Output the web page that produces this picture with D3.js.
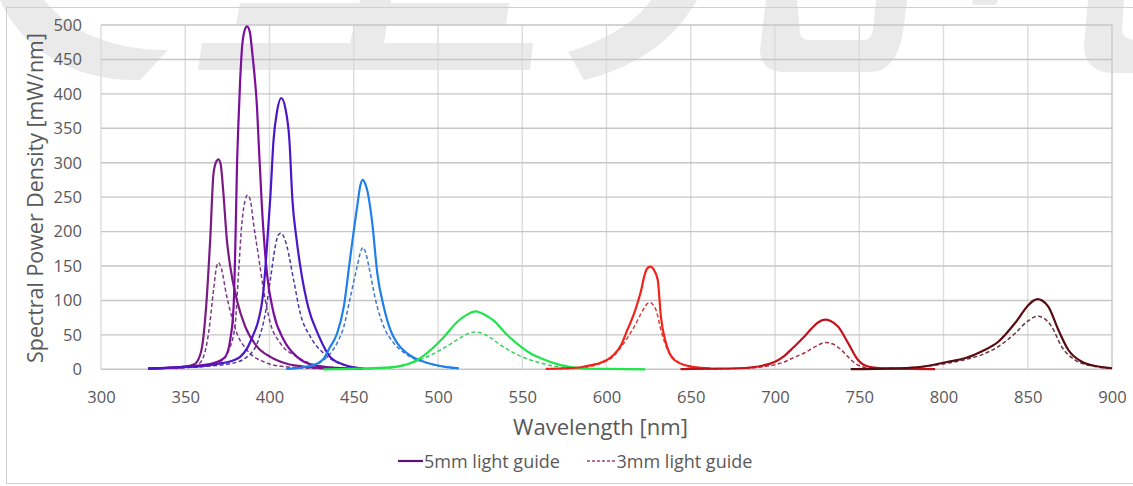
<!DOCTYPE html>
<html>
<head>
<meta charset="utf-8">
<script src="https://cdn.jsdelivr.net/npm/d3@7"></script>
<style>
	body { margin: 0; background: #fff; }
	svg { display: block; font-family: "Open Sans", sans-serif; }
</style>
</head>
<body>
<div id="chart"></div>
<script>
/* global d3 */

//	BEGIN data

var xTicks = [300, 350, 400, 450, 500, 550, 600, 650, 700, 750, 800, 850, 900];
var yTicks = [0, 50, 100, 150, 200, 250, 300, 350, 400, 450, 500];
var legendLabels = ["5mm light guide", "3mm light guide"];

// one LED per entry, [wavelength nm, mW/nm]
var led370Solid = [[328,1],[340,2],[350,4],[355,7],[357,11],[360,33],[362.4,91],[364.8,188],[366.8,285],[368.5,302],[369.7,305],[371,298],[372.5,260],[374.7,188],[376.7,149],[380.7,100],[385.6,62],[392.6,33],[400.5,18],[410.4,8],[420,4],[435,1.5],[450,0.5]];
var led370Dashed = [[328,1],[345,2],[352,3],[357,6],[360.8,18],[363.8,52],[366.8,115],[368.5,148],[369.7,155],[371,150],[374.7,105],[380.7,52],[386.6,28],[396.5,11],[405,5],[420,2],[440,0.5]];
var led386Solid = [[328,1],[345,3],[357,5],[366.8,9],[373.7,18],[376.7,43],[378.7,91],[379.8,188],[380.7,294],[381.6,360],[382.6,420],[383.6,464],[385.2,492],[386.7,498],[388.3,490],[389.6,464],[391,430],[392.6,380],[393.5,333],[395.5,236],[398.5,139],[402.5,81],[408.4,43],[416.4,18],[426,6],[440,2],[455,0.5]];
var led386Dashed = [[328,1],[345,2],[360,4],[370.7,11],[376.7,33],[379.7,67],[381.6,139],[383.6,212],[385.5,245],[387,253],[388.7,245],[390.5,212],[393.5,164],[396.5,115],[400.5,67],[406.4,38],[416.4,18],[426,7],[440,2],[455,0.5]];
var led406Solid = [[328,1],[345,3],[360,4.5],[370,8],[378.7,13],[382.6,18],[386.6,30],[390,48],[393.5,72],[396,105],[397.5,145],[398.5,180],[400.5,250],[402.4,333],[404.5,375],[407,394],[409.5,378],[411.8,333],[413.6,246],[416,190],[418.3,149],[423,90],[429,50],[436,18],[445,6],[455,1.5]];
var led406Dashed = [[328,1],[350,3],[365,5],[376.7,8],[386.6,18],[393.5,43],[397.5,81],[400.5,130],[403.4,178],[405,194],[406.8,198],[408.6,192],[410.4,178],[414.3,130],[418.3,81],[424.3,47],[432.2,23],[440,10],[450,3],[460,1]];
var led455Solid = [[410,0.5],[420,3],[428,8],[432,15],[436.1,33],[440.1,52],[444.1,91],[448,164],[452,236],[454,268],[455.4,275],[457,268],[458,260],[461,212],[464,139],[467.8,91],[471.8,57],[475.8,38],[481.7,23],[491.6,11],[503.5,4],[512.4,1.5]];
var led455Dashed = [[410,0.5],[420,3],[428,7],[432,13],[436.1,23],[440.1,38],[444.1,62],[448,105],[452,149],[454,170],[455.4,177],[457,170],[459,149],[462.9,101],[467.8,62],[473.8,38],[481.7,21],[495.4,8],[505,3],[512,1]];
var led522Solid = [[432,0],[448,0.5],[465,2],[475.8,4],[487.7,13.5],[495.6,28],[503.5,47],[511.5,69],[517,79],[522.4,84],[525.3,82],[530,76],[534.8,67],[537.2,60],[543.2,45],[549.1,33],[555,23],[561,16],[572.9,6],[584.8,1.5],[600,0.5],[623,0]];
var led522Dashed = [[432,0],[450,0.5],[470,2],[479.7,6],[491.6,16],[501.5,28],[511.5,43],[517,51],[522.4,54],[525.3,53],[531,46],[537.2,35],[549.1,19],[561,9],[573,3],[585,1],[600,0.3],[623,0]];
var led625Solid = [[564,0.5],[575,1.5],[584.8,3],[591,6],[596.9,10],[600.6,14],[604.6,22],[608.6,35],[612,55],[616.5,82],[618.5,97],[620.5,114],[622.4,135],[624,146],[626,149],[628,145],[630.4,130],[632.3,76],[635.3,38],[640.3,13.5],[648.2,5],[656.2,2],[662,1]];
var led625Dashed = [[564,0.3],[580,1.5],[590,4],[596.9,9],[600.6,13],[604.6,20],[607,27],[610,37],[613,48],[616.5,62],[620.5,81],[622.4,89],[624,95],[626,97],[627.5,94],[629.4,86],[632.3,57],[636.3,28],[642.3,11],[650.2,4],[660,1]];
var led730Solid = [[644,0.3],[660,0.8],[678,1.5],[693.8,6],[700,11],[705.8,20],[711,32],[717.6,48],[722,60],[725.5,68],[729.7,72],[733,70],[737.4,62],[743.4,38],[749.3,13.5],[755.2,4],[763,1.5],[780,0.5],[795,0.3]];
var led730Dashed = [[644,0.2],[665,0.6],[680,1.5],[693.8,4],[705.8,11],[711,17],[717.6,24],[725.5,35],[729.7,39],[734,37],[739.4,28],[743,19],[747.3,9],[755.2,2],[765,0.5],[795,0.2]];
var led855Solid = [[745,0.3],[765,1],[784.8,3],[802.7,11],[812.7,16],[822.6,26],[832.5,40],[842.4,67],[850.3,93],[853.5,100],[855.9,102],[858.5,100],[862.2,91],[868.2,57],[874.1,28],[882.1,11],[892,4],[900,1.5]];
var led855Dashed = [[745,0.2],[765,0.8],[784.8,3],[802.7,9],[812.7,14],[822.6,21],[832.5,33],[842.4,52],[850,70],[855.9,77],[859,75],[864.2,62],[870.1,33],[878.1,13.5],[890,4],[900,1.5]];

//	END data

var series = [
	{ solid: led370Solid, dashed: led370Dashed, color: "#7a1a84", dashColor: "#7c3a86" },
	{ solid: led386Solid, dashed: led386Dashed, color: "#7c0e9c", dashColor: "#7a3a8a" },
	{ solid: led406Solid, dashed: led406Dashed, color: "#4a16c8", dashColor: "#4c3aa6" },
	{ solid: led455Solid, dashed: led455Dashed, color: "#1f80ea", dashColor: "#3c78cc" },
	{ solid: led522Solid, dashed: led522Dashed, color: "#1fe44a", dashColor: "#3ccf5e" },
	{ solid: led625Solid, dashed: led625Dashed, color: "#f0241a", dashColor: "#d8403c" },
	{ solid: led730Solid, dashed: led730Dashed, color: "#c4121c", dashColor: "#a83040" },
	{ solid: led855Solid, dashed: led855Dashed, color: "#580c10", dashColor: "#6a3444" }
];

// light grey watermark shapes behind the chart
var watermark = [
	"M0,0 L44,0 C70,32 112,50 168,50 L140,80 C80,82 22,52 0,0 Z",
	"M240,3 L509,3 L506,25 L236,25 Z",
	"M360,0 L391,0 L384,43 L350,43 Z",
	"M202,43 L533,43 L530,70 L198,70 Z",
	"M651,0 L697,0 C672,44 632,68 584,80 L568,52 C606,40 636,22 651,0 Z",
	"M766,0 L797,0 L800,33 Q801,40 810,40 L862,40 Q872,40 873,30 L876,0 L907,0 L903,33 Q896,72 870,72 L786,72 Q761,72 760,50 Z",
	"M972,0 L998,0 L996,5 L973,5 Z",
	"M1088,0 L1124,0 L1122,30 Q1122,38 1133,40 L1133,73 L1110,73 Q1084,70 1084,45 Z"
];

var width = 1133;
var height = 486;
var plot = { left: 101, right: 1112, top: 25, bottom: 369.3 };

var svg = d3.select("#chart")
	.append("svg")
	.attr("width", width)
	.attr("height", height);

svg.append("g")
	.selectAll("path")
	.data(watermark)
	.enter().append("path")
	.attr("d", function(d) { return d; })
	.style("fill", "#eaeaea");

// outer chart border
svg.append("rect")
	.attr("x", 6.5)
	.attr("y", 7.5)
	.attr("width", 1140)
	.attr("height", 476)
	.style("fill", "none")
	.style("stroke", "#d0d0d0");

var x = d3.scaleLinear().domain([300, 900]).range([plot.left, plot.right]);
var y = d3.scaleLinear().domain([0, 500]).range([plot.bottom, plot.top]);

// grid
svg.append("g")
	.selectAll("line")
	.data(xTicks)
	.enter().append("line")
	.attr("x1", function(d) { return x(d); })
	.attr("x2", function(d) { return x(d); })
	.attr("y1", plot.top)
	.attr("y2", plot.bottom)
	.style("stroke", function(d) { return d === 900 ? "#c8c8c8" : "#dcdcdc"; })
	.style("stroke-width", 1.4);

svg.append("g")
	.selectAll("line")
	.data(yTicks)
	.enter().append("line")
	.attr("x1", plot.left)
	.attr("x2", plot.right)
	.attr("y1", function(d) { return y(d); })
	.attr("y2", function(d) { return y(d); })
	.style("stroke", "#c6c6c6")
	.style("stroke-width", 1.4);

// axes
var xAxis = svg.append("g")
	.attr("transform", "translate(0," + plot.bottom + ")")
	.call(d3.axisBottom(x).tickValues(xTicks).tickSize(0).tickPadding(22));

var yAxis = svg.append("g")
	.attr("transform", "translate(" + plot.left + ",0)")
	.call(d3.axisLeft(y).tickValues(yTicks).tickSize(0).tickPadding(19));

xAxis.select(".domain").remove();
yAxis.select(".domain").remove();

svg.selectAll(".tick text")
	.attr("font-family", "Open Sans")
	.attr("font-size", 17)
	.style("fill", "#595959");

// fit a text's font size to a measured width
function fitWidth(sel, target) {
	var w = sel.node().getComputedTextLength();
	var fs = parseFloat(sel.attr("font-size"));
	return fs * target / w;
}

var tickSize = fitWidth(yAxis.select(".tick:last-of-type text"), 28.4);
svg.selectAll(".tick text").attr("font-size", tickSize);

// axis titles
var xTitle = svg.append("text")
	.attr("x", 600.5)
	.attr("y", 435)
	.attr("text-anchor", "middle")
	.attr("font-size", 20)
	.style("fill", "#595959")
	.text("Wavelength [nm]");
xTitle.attr("font-size", fitWidth(xTitle, 175));

var yTitle = svg.append("text")
	.attr("transform", "translate(42.7,198) rotate(-90)")
	.attr("text-anchor", "middle")
	.attr("font-size", 20)
	.style("fill", "#595959")
	.text("Spectral Power Density [mW/nm]");
yTitle.attr("font-size", fitWidth(yTitle, 330));

// curves
var line = d3.line()
	.x(function(d) { return x(d[0]); })
	.y(function(d) { return y(d[1]); })
	.curve(d3.curveMonotoneX);

var curves = svg.append("g");

curves.selectAll(".dashed")
	.data(series)
	.enter().append("path")
	.attr("class", "dashed")
	.attr("d", function(d) { return line(d.dashed); })
	.style("fill", "none")
	.style("stroke", function(d) { return d.dashColor; })
	.style("stroke-width", 1.5)
	.style("stroke-dasharray", "4,2.5");

curves.selectAll(".solid")
	.data(series)
	.enter().append("path")
	.attr("class", "solid")
	.attr("d", function(d) { return line(d.solid); })
	.style("fill", "none")
	.style("stroke", function(d) { return d.color; })
	.style("stroke-width", 2.2);

// legend
var legend = svg.append("g");

legend.append("line")
	.attr("x1", 398).attr("x2", 423)
	.attr("y1", 461).attr("y2", 461)
	.style("stroke", "#5c1374")
	.style("stroke-width", 2.2);

legend.append("line")
	.attr("x1", 587).attr("x2", 615)
	.attr("y1", 461).attr("y2", 461)
	.style("stroke", "#a04670")
	.style("stroke-width", 1.5)
	.style("stroke-dasharray", "3,2");

var leg1 = legend.append("text")
	.attr("x", 424)
	.attr("y", 468)
	.attr("font-size", 18)
	.style("fill", "#595959")
	.text(legendLabels[0]);
var legSize = fitWidth(leg1, 136);
leg1.attr("font-size", legSize);

legend.append("text")
	.attr("x", 616.5)
	.attr("y", 468)
	.attr("font-size", legSize)
	.style("fill", "#595959")
	.text(legendLabels[1]);
</script>
</body>
</html>
